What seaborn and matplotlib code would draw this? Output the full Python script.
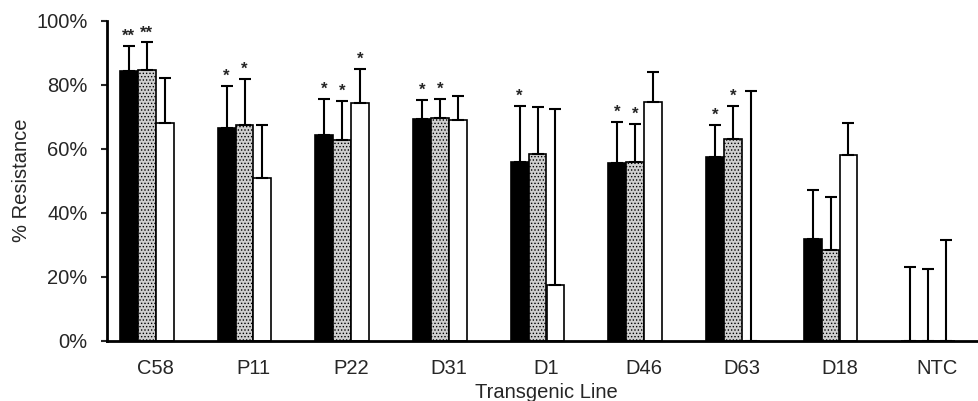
import numpy as np
import pandas as pd
import matplotlib.pyplot as plt
import seaborn as sns

# ---- Data ----
lines = ["C58", "P11", "P22", "D31", "D1", "D46", "D63", "D18", "NTC"]
series = ["Trial 1", "Trial 2", "Trial 3", "Trial 4"]  # 4th series is empty

res_1 = [84.3, 66.4, 64.4, 69.3, 56.0, 55.6, 57.5, 31.7, 0.0]
res_2 = [84.8, 67.5, 62.7, 69.6, 58.3, 56.0, 63.0, 28.3, 0.0]
res_3 = [68.0, 50.8, 74.2, 69.0, 17.4, 74.6, 0.0, 58.0, 0.0]

err_1 = [8.0, 13.4, 11.2, 6.1, 17.4, 12.8, 9.9, 15.4, 23.1]
err_2 = [8.5, 14.5, 12.2, 6.0, 14.8, 11.9, 10.4, 16.7, 22.4]
err_3 = [14.3, 16.5, 10.9, 7.4, 55.0, 9.4, 78.2, 10.1, 31.6]

sig_1 = ["**", "*", "*", "*", "*", "*", "*", "", ""]
sig_2 = ["**", "*", "*", "*", "", "*", "*", "", ""]
sig_3 = ["", "", "*", "", "", "", "", "", ""]

values = [res_1, res_2, res_3]
errors = [err_1, err_2, err_3]
stars = [sig_1, sig_2, sig_3]

df = pd.DataFrame({
    "line": lines * 3,
    "series": np.repeat(series[:3], len(lines)),
    "resistance": np.concatenate(values) / 100,
})

# ---- Plot ----
sns.set_style("white")
plt.rcParams["font.family"] = ["Liberation Sans", "DejaVu Sans"]
plt.rcParams["hatch.linewidth"] = 0.6

fig = plt.figure(figsize=(9.79, 4.01), dpi=100)
ax = fig.add_axes([107 / 979, 60.5 / 401, 879 / 979, 319.5 / 401])

palette = {"Trial 1": "black", "Trial 2": "#cfcfcf", "Trial 3": "white", "Trial 4": "white"}
sns.barplot(
    data=df, x="line", y="resistance", hue="series",
    order=lines, hue_order=series, palette=palette,
    width=0.737, saturation=1, edgecolor="black", linewidth=1.2,
    errorbar=None, legend=False, ax=ax,
)

for i, container in enumerate(ax.containers[:3]):
    bars = list(container)
    if i == 1:
        for b in bars:
            b.set_hatch(".....")
    xs = [b.get_x() + b.get_width() / 2 for b in bars]
    ys = np.array(values[i]) / 100
    errs = np.array(errors[i]) / 100
    ax.errorbar(xs, ys, yerr=[np.zeros_like(errs), errs], fmt="none",
                ecolor="black", elinewidth=1.5, capsize=4, capthick=1.5, zorder=3)
    for x, y, e, s in zip(xs, ys, errs, stars[i]):
        if s:
            ax.annotate(s, (x, y + e), xytext=(0, 1.5), textcoords="offset points",
                        ha="center", va="bottom", fontsize=12, fontweight="bold")

ax.set_xlim(-0.5, len(lines) - 0.5)
ax.set_ylim(0, 1)
ax.set_yticks(np.arange(0, 1.01, 0.2))
ax.set_yticklabels([f"{int(v * 100)}%" for v in np.arange(0, 1.01, 0.2)])
ax.set_xticks(np.arange(len(lines)) + 0.5, minor=True)
ax.tick_params(axis="x", which="major", length=0, pad=13, labelsize=14.5)
ax.tick_params(axis="x", which="minor", direction="in", length=4, width=1.5)
ax.tick_params(axis="y", direction="out", length=4, width=1.5, left=True, pad=10, labelsize=14.5)

ax.set_xlabel("Transgenic Line", fontsize=14.5, labelpad=4)
ax.set_ylabel("% Resistance", fontsize=14.5, labelpad=4)

sns.despine(ax=ax)
for side in ["left", "bottom"]:
    ax.spines[side].set_linewidth(2)
    ax.spines[side].set_color("black")

plt.savefig("out.png", dpi=100)
